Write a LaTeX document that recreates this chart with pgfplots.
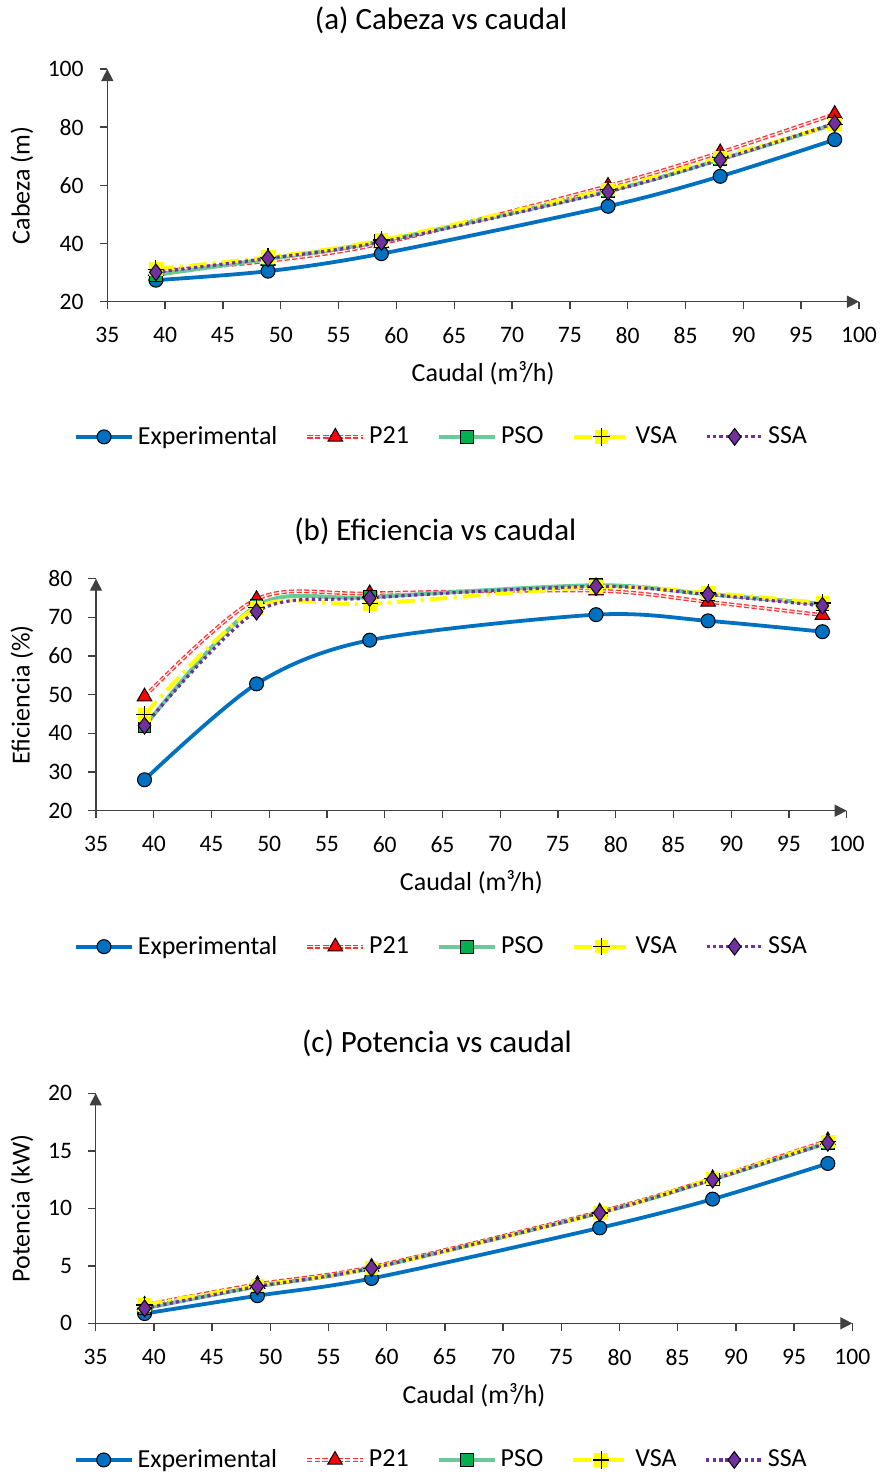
\documentclass[border=0pt]{standalone}
\usepackage{pgfplots}
\pgfplotsset{compat=1.18}
\usepackage{pgfplotstable}
\usepackage{fontspec}
\setmainfont{Carlito}
\usetikzlibrary{arrows.meta}

\definecolor{expblue}{HTML}{0070C0}
\definecolor{p21red}{HTML}{FF0000}
\definecolor{psogreen}{HTML}{00B050}
\definecolor{psoline}{HTML}{6CC999}
\definecolor{vsayellow}{HTML}{FFFF00}
\definecolor{ssapurple}{HTML}{7030A0}
\definecolor{axgray}{HTML}{404040}

\pgfdeclareplotmark{yplus}{%
  \pgfpathrectangle{\pgfpoint{-\pgfplotmarksize}{-\pgfplotmarksize}}{\pgfpoint{2\pgfplotmarksize}{2\pgfplotmarksize}}%
  \pgfsetfillcolor{vsayellow}\pgfusepathqfill
  \pgfpathmoveto{\pgfpoint{-1.2\pgfplotmarksize}{0pt}}\pgfpathlineto{\pgfpoint{1.2\pgfplotmarksize}{0pt}}%
  \pgfpathmoveto{\pgfpoint{0pt}{-1.3\pgfplotmarksize}}\pgfpathlineto{\pgfpoint{0pt}{1.3\pgfplotmarksize}}%
  \pgfsetstrokecolor{black}\pgfusepathqstroke}

\pgfplotstableread{
x exp p21 pso vsa ssa
39.2 27.4 30.5 29.2 31.2 30.1
48.9 30.5 34.0 34.7 35.3 34.9
58.7 36.5 40.0 40.8 41.2 40.5
78.3 52.8 59.8 58.0 58.6 57.8
88.0 63.1 71.3 68.9 69.6 68.8
97.9 75.7 84.5 81.0 80.9 81.3
}\tabA

\pgfplotstableread{
x exp p21 pso vsa ssa
39.2 28.0 49.5 41.8 44.8 42.0
48.9 52.8 74.7 73.0 72.5 71.5
58.7 64.1 76.2 75.2 73.5 75.0
78.3 70.7 76.9 78.3 77.8 78.0
88.0 69.1 74.0 76.0 76.3 75.9
97.9 66.3 70.6 73.5 73.7 73.0
}\tabB

\pgfplotstableread{
x exp p21 pso vsa ssa
39.2 0.85 1.6 1.3 1.6 1.3
48.9 2.4 3.4 3.2 3.3 3.2
58.7 3.9 4.9 4.8 4.8 4.8
78.3 8.3 9.7 9.6 9.6 9.6
88.0 10.8 12.6 12.5 12.6 12.5
97.9 13.9 15.9 15.7 15.8 15.7
}\tabC

\pgfplotsset{
  every axis title shift=0pt,
  myax/.style={
    scale only axis, anchor=south west,
    axis lines=left,
    axis line style={axgray, line width=0.7pt, -{Triangle[length=6pt,width=6pt]}},
    xmin=35, xmax=100, xtick={35,40,...,100},
    tick align=outside, major tick length=3.8pt,
    tick style={axgray, line width=0.7pt},
    /pgf/number format/assume math mode=true,
    tick label style={font=\fontsize{11.8}{13}\selectfont, color=black},
    xticklabel style={yshift=-5.5pt},
    yticklabel style={xshift=-4.5pt},
    label style={font=\fontsize{13}{15}\selectfont},
    xlabel={Caudal (m³/h)},
    title style={font=\fontsize{15.5}{17}\selectfont, anchor=center},
    legend style={draw=none, fill=none, legend columns=-1, anchor=center,
      font=\fontsize{13}{15}\selectfont,
      /tikz/every even column/.append style={column sep=12pt}},
    legend image code/.code={\draw[mark repeat=2,mark phase=2] plot coordinates {(0pt,0pt) (14pt,0pt) (28pt,0pt)};},
  },
  sexp/.style={color=expblue, line width=1.9pt, smooth, mark=*, mark size=3.5pt,
    mark options={solid, draw=black, fill=expblue, line width=0.5pt}},
  sp21/.style={color=p21red!80, line width=0.65pt, double=p21red!10, double distance=0.6pt,
    dash pattern=on 2.6pt off 1.2pt, smooth, mark=triangle*, mark size=4.2pt,
    mark options={solid, draw=black, fill=p21red, line width=0.5pt, double=none}},
  spso/.style={color=psoline, line width=2pt, smooth, mark=square*, mark size=3.2pt,
    mark options={solid, draw=black, fill=psogreen, line width=0.5pt}},
  svsa/.style={color=vsayellow, line width=2pt, dash pattern=on 9pt off 3pt on 1.5pt off 3pt, smooth, mark=yplus, mark size=3.4pt,
    mark options={solid, line width=0.6pt}},
  sssa/.style={color=ssapurple, line width=1.6pt, dash pattern=on 1.6pt off 1.6pt, smooth, mark=diamond*, mark size=4.2pt,
    mark options={solid, draw=black, fill=ssapurple, line width=0.5pt}},
}

\begin{document}
\begin{tikzpicture}
\useasboundingbox (0,0) rectangle (442.5pt,-737.5pt);

\begin{axis}[myax, at={(53.65pt,-150.85pt)}, width=375.85pt, height=116.35pt,
  ymin=20, ymax=100, ytick={20,40,...,100},
  title={(a) Cabeza vs caudal}, title style={at={(axis description cs:0.444,1.21)}},
  xlabel style={at={(axis description cs:0.5,-0.306)}, anchor=center},
  ylabel={Cabeza (m)}, ylabel style={at={(axis description cs:-0.1135,0.5)}, anchor=center},
  legend style={at={(0.446,-0.581)}}]
\addplot[sexp] table[x=x,y=exp]{\tabA};
\addplot[sp21] table[x=x,y=p21]{\tabA};
\addplot[spso] table[x=x,y=pso]{\tabA};
\addplot[svsa] table[x=x,y=vsa]{\tabA};
\addplot[sssa] table[x=x,y=ssa]{\tabA};
\legend{Experimental,P21,PSO,VSA,SSA}
\end{axis}

\begin{axis}[myax, at={(48pt,-405.35pt)}, width=375.35pt, height=116pt,
  ymin=20, ymax=80, ytick={20,30,...,80},
  title={(b) Eficiencia vs caudal}, title style={at={(axis description cs:0.452,1.206)}},
  xlabel style={at={(axis description cs:0.5,-0.307)}, anchor=center},
  ylabel={Eficiencia (\%)}, ylabel style={at={(axis description cs:-0.0986,0.5)}, anchor=center},
  legend style={at={(0.4616,-0.586)}}]
\addplot[sexp] table[x=x,y=exp]{\tabB};
\addplot[sp21] table[x=x,y=p21]{\tabB};
\addplot[spso] table[x=x,y=pso]{\tabB};
\addplot[svsa] table[x=x,y=vsa]{\tabB};
\addplot[sssa] table[x=x,y=ssa]{\tabB};
\legend{Experimental,P21,PSO,VSA,SSA}
\end{axis}

\begin{axis}[myax, at={(47.85pt,-661.65pt)}, width=378.3pt, height=115pt,
  ymin=0, ymax=20, ytick={0,5,...,20},
  title={(c) Potencia vs caudal}, title style={at={(axis description cs:0.451,1.219)}},
  xlabel style={at={(axis description cs:0.5,-0.312)}, anchor=center},
  ylabel={Potencia (kW)}, ylabel style={at={(axis description cs:-0.0974,0.5)}, anchor=center},
  legend style={at={(0.458,-0.594)}}]
\addplot[sexp] table[x=x,y=exp]{\tabC};
\addplot[sp21] table[x=x,y=p21]{\tabC};
\addplot[spso] table[x=x,y=pso]{\tabC};
\addplot[svsa] table[x=x,y=vsa]{\tabC};
\addplot[sssa] table[x=x,y=ssa]{\tabC};
\legend{Experimental,P21,PSO,VSA,SSA}
\end{axis}
\end{tikzpicture}
\end{document}
